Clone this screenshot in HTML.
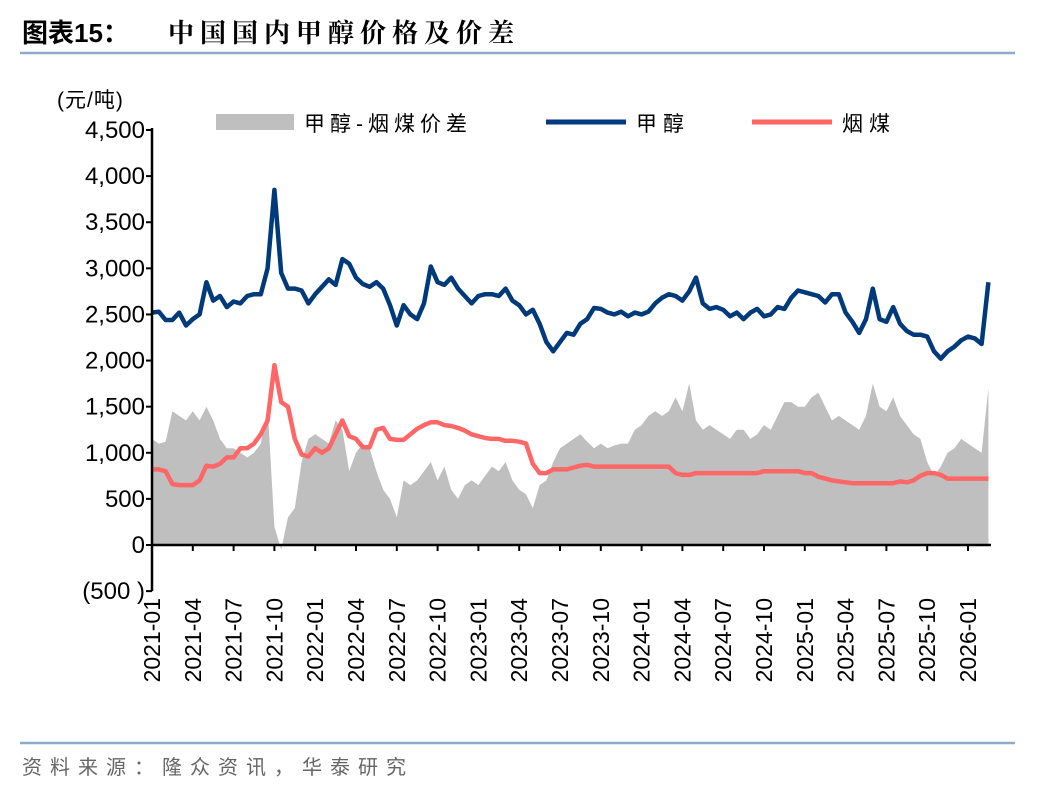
<!DOCTYPE html>
<html><head><meta charset="utf-8"><style>
body{margin:0;background:#fff;width:1048px;height:792px;overflow:hidden;font-family:"Liberation Sans","Noto Sans CJK SC",sans-serif}
</style></head><body>
<svg width="1048" height="792">
<text x="22" y="42" font-size="26" font-weight="bold" fill="#000">图表15：</text>
<text x="168" y="42" font-size="26" font-weight="bold" fill="#000" letter-spacing="6" font-family="Liberation Serif,Noto Serif CJK SC,serif">中国国内甲醇价格及价差</text>
<line x1="20" y1="53" x2="1015" y2="53" stroke="#8eaacb" stroke-width="2.5"/>
<text x="57" y="107" font-size="21" letter-spacing="1">(元/吨)</text>
<g>
<rect x="216" y="114" width="78" height="16" fill="#bfbfbf"/>
<text x="304" y="131" font-size="21" letter-spacing="5">甲醇-烟煤价差</text>
<line x1="546" y1="122" x2="626" y2="122" stroke="#003a7a" stroke-width="5"/>
<text x="636" y="131" font-size="21" letter-spacing="6">甲醇</text>
<line x1="752" y1="122" x2="832" y2="122" stroke="#ff6666" stroke-width="5"/>
<text x="842" y="131" font-size="21" letter-spacing="6">烟煤</text>
</g>
<g id="plot"></g>
<line x1="20" y1="743" x2="1015" y2="743" stroke="#8eaacb" stroke-width="2.5"/>
<text x="22" y="774" font-size="20" fill="#666" letter-spacing="8">资料来源：隆众资讯，华泰研究</text>
</svg>
<script>
const methanol=[2520,2530,2440,2440,2520,2380,2450,2500,2850,2650,2700,2580,2640,2620,2700,2720,2720,3000,3850,2950,2780,2780,2760,2620,2720,2800,2880,2820,3100,3050,2900,2830,2800,2850,2780,2600,2380,2600,2500,2450,2620,3020,2850,2820,2900,2780,2700,2620,2700,2720,2720,2700,2780,2650,2600,2500,2550,2400,2200,2100,2200,2300,2280,2400,2450,2570,2560,2520,2500,2530,2480,2520,2500,2530,2620,2680,2720,2700,2650,2750,2900,2620,2560,2580,2550,2480,2520,2450,2520,2560,2480,2500,2580,2560,2680,2760,2740,2720,2700,2630,2720,2720,2520,2420,2300,2450,2780,2450,2420,2580,2400,2320,2280,2280,2260,2100,2020,2100,2150,2220,2260,2240,2180,2850];
const coal=[820,820,800,660,650,650,650,700,860,850,880,950,950,1050,1050,1100,1200,1350,1950,1550,1500,1150,980,960,1050,1000,1050,1200,1350,1180,1150,1060,1060,1250,1270,1150,1140,1140,1200,1260,1300,1330,1330,1300,1290,1270,1240,1200,1180,1160,1150,1150,1130,1130,1120,1100,880,780,780,820,820,820,840,860,870,850,850,850,850,850,850,850,850,850,850,850,850,780,760,760,780,780,780,780,780,780,780,780,780,780,800,800,800,800,800,800,780,780,740,720,700,690,680,670,670,670,670,670,670,670,690,680,700,750,780,780,760,720,720,720,720,720,720,720];
const spread=[1150,1100,1120,1450,1400,1350,1450,1350,1500,1350,1150,1050,1050,1000,950,1000,1100,1500,200,-50,300,400,900,1150,1200,1150,1100,1350,1250,800,1000,1100,1050,800,600,500,300,700,650,700,800,900,700,850,600,500,650,700,650,750,850,800,900,700,600,550,400,650,700,900,1050,1100,1150,1200,1120,1050,1100,1050,1080,1100,1100,1250,1300,1400,1450,1400,1450,1600,1450,1750,1350,1250,1300,1250,1200,1150,1250,1250,1150,1200,1300,1250,1400,1550,1550,1500,1500,1600,1650,1500,1350,1400,1350,1300,1250,1400,1750,1500,1450,1600,1400,1300,1200,1150,900,750,850,1000,1050,1150,1100,1050,1000,1700];
const yTicks=[-500,0,500,1000,1500,2000,2500,3000,3500,4000,4500];
const yTickLabels=["(500 )","0","500","1,000","1,500","2,000","2,500","3,000","3,500","4,000","4,500"];
const xTickLabels=["2021-01","2021-04","2021-07","2021-10","2022-01","2022-04","2022-07","2022-10","2023-01","2023-04","2023-07","2023-10","2024-01","2024-04","2024-07","2024-10","2025-01","2025-04","2025-07","2025-10","2026-01"];
const NS="http://www.w3.org/2000/svg";
const X0=152,Y0=545,PX=415/4500;
const y=v=>Y0-v*PX;
const x=i=>X0+i*6.8;
const g=document.getElementById('plot');
function mk(t,a){const e=document.createElementNS(NS,t);for(const k in a)e.setAttribute(k,a[k]);g.appendChild(e);return e;}
let d=`M${x(0)},${y(0)}`;spread.forEach((v,i)=>d+=`L${x(i).toFixed(1)},${y(v).toFixed(1)}`);d+=`L${x(spread.length-1)},${y(0)}Z`;
const ar=mk('path',{d:d,fill:'#bfbfbf'});


function line(arr,c,name){const p=mk('path',{d:arr.map((v,i)=>(i?'L':'M')+x(i).toFixed(1)+','+y(v).toFixed(1)).join(''),fill:'none',stroke:c,'stroke-width':4.5,'stroke-linejoin':'round'});

}
line(coal,'#ff6666','coal-line');
line(methanol,'#003a7a','methanol-line');
const ya=mk('line',{x1:X0,y1:y(4500)-2,x2:X0,y2:y(-500),stroke:'#000','stroke-width':2.5});


yTicks.forEach((v,i)=>{mk('line',{x1:X0-6,x2:X0,y1:y(v),y2:y(v),stroke:'#000','stroke-width':2});
const t=mk('text',{x:145,y:y(v)+8,'font-size':24,'text-anchor':'end'});t.textContent=yTickLabels[i];

});
const xa=mk('line',{x1:X0,y1:Y0,x2:991,y2:Y0,stroke:'#000','stroke-width':2.5});


xTickLabels.forEach((s,i)=>{const xx=x(i*6);mk('line',{x1:xx,x2:xx,y1:Y0,y2:Y0+6,stroke:'#000','stroke-width':2});
const t=mk('text',{x:0,y:0,'font-size':23,'text-anchor':'end',transform:`translate(${xx+8},598) rotate(-90)`});t.textContent=s;

});
</script>
</body></html>
